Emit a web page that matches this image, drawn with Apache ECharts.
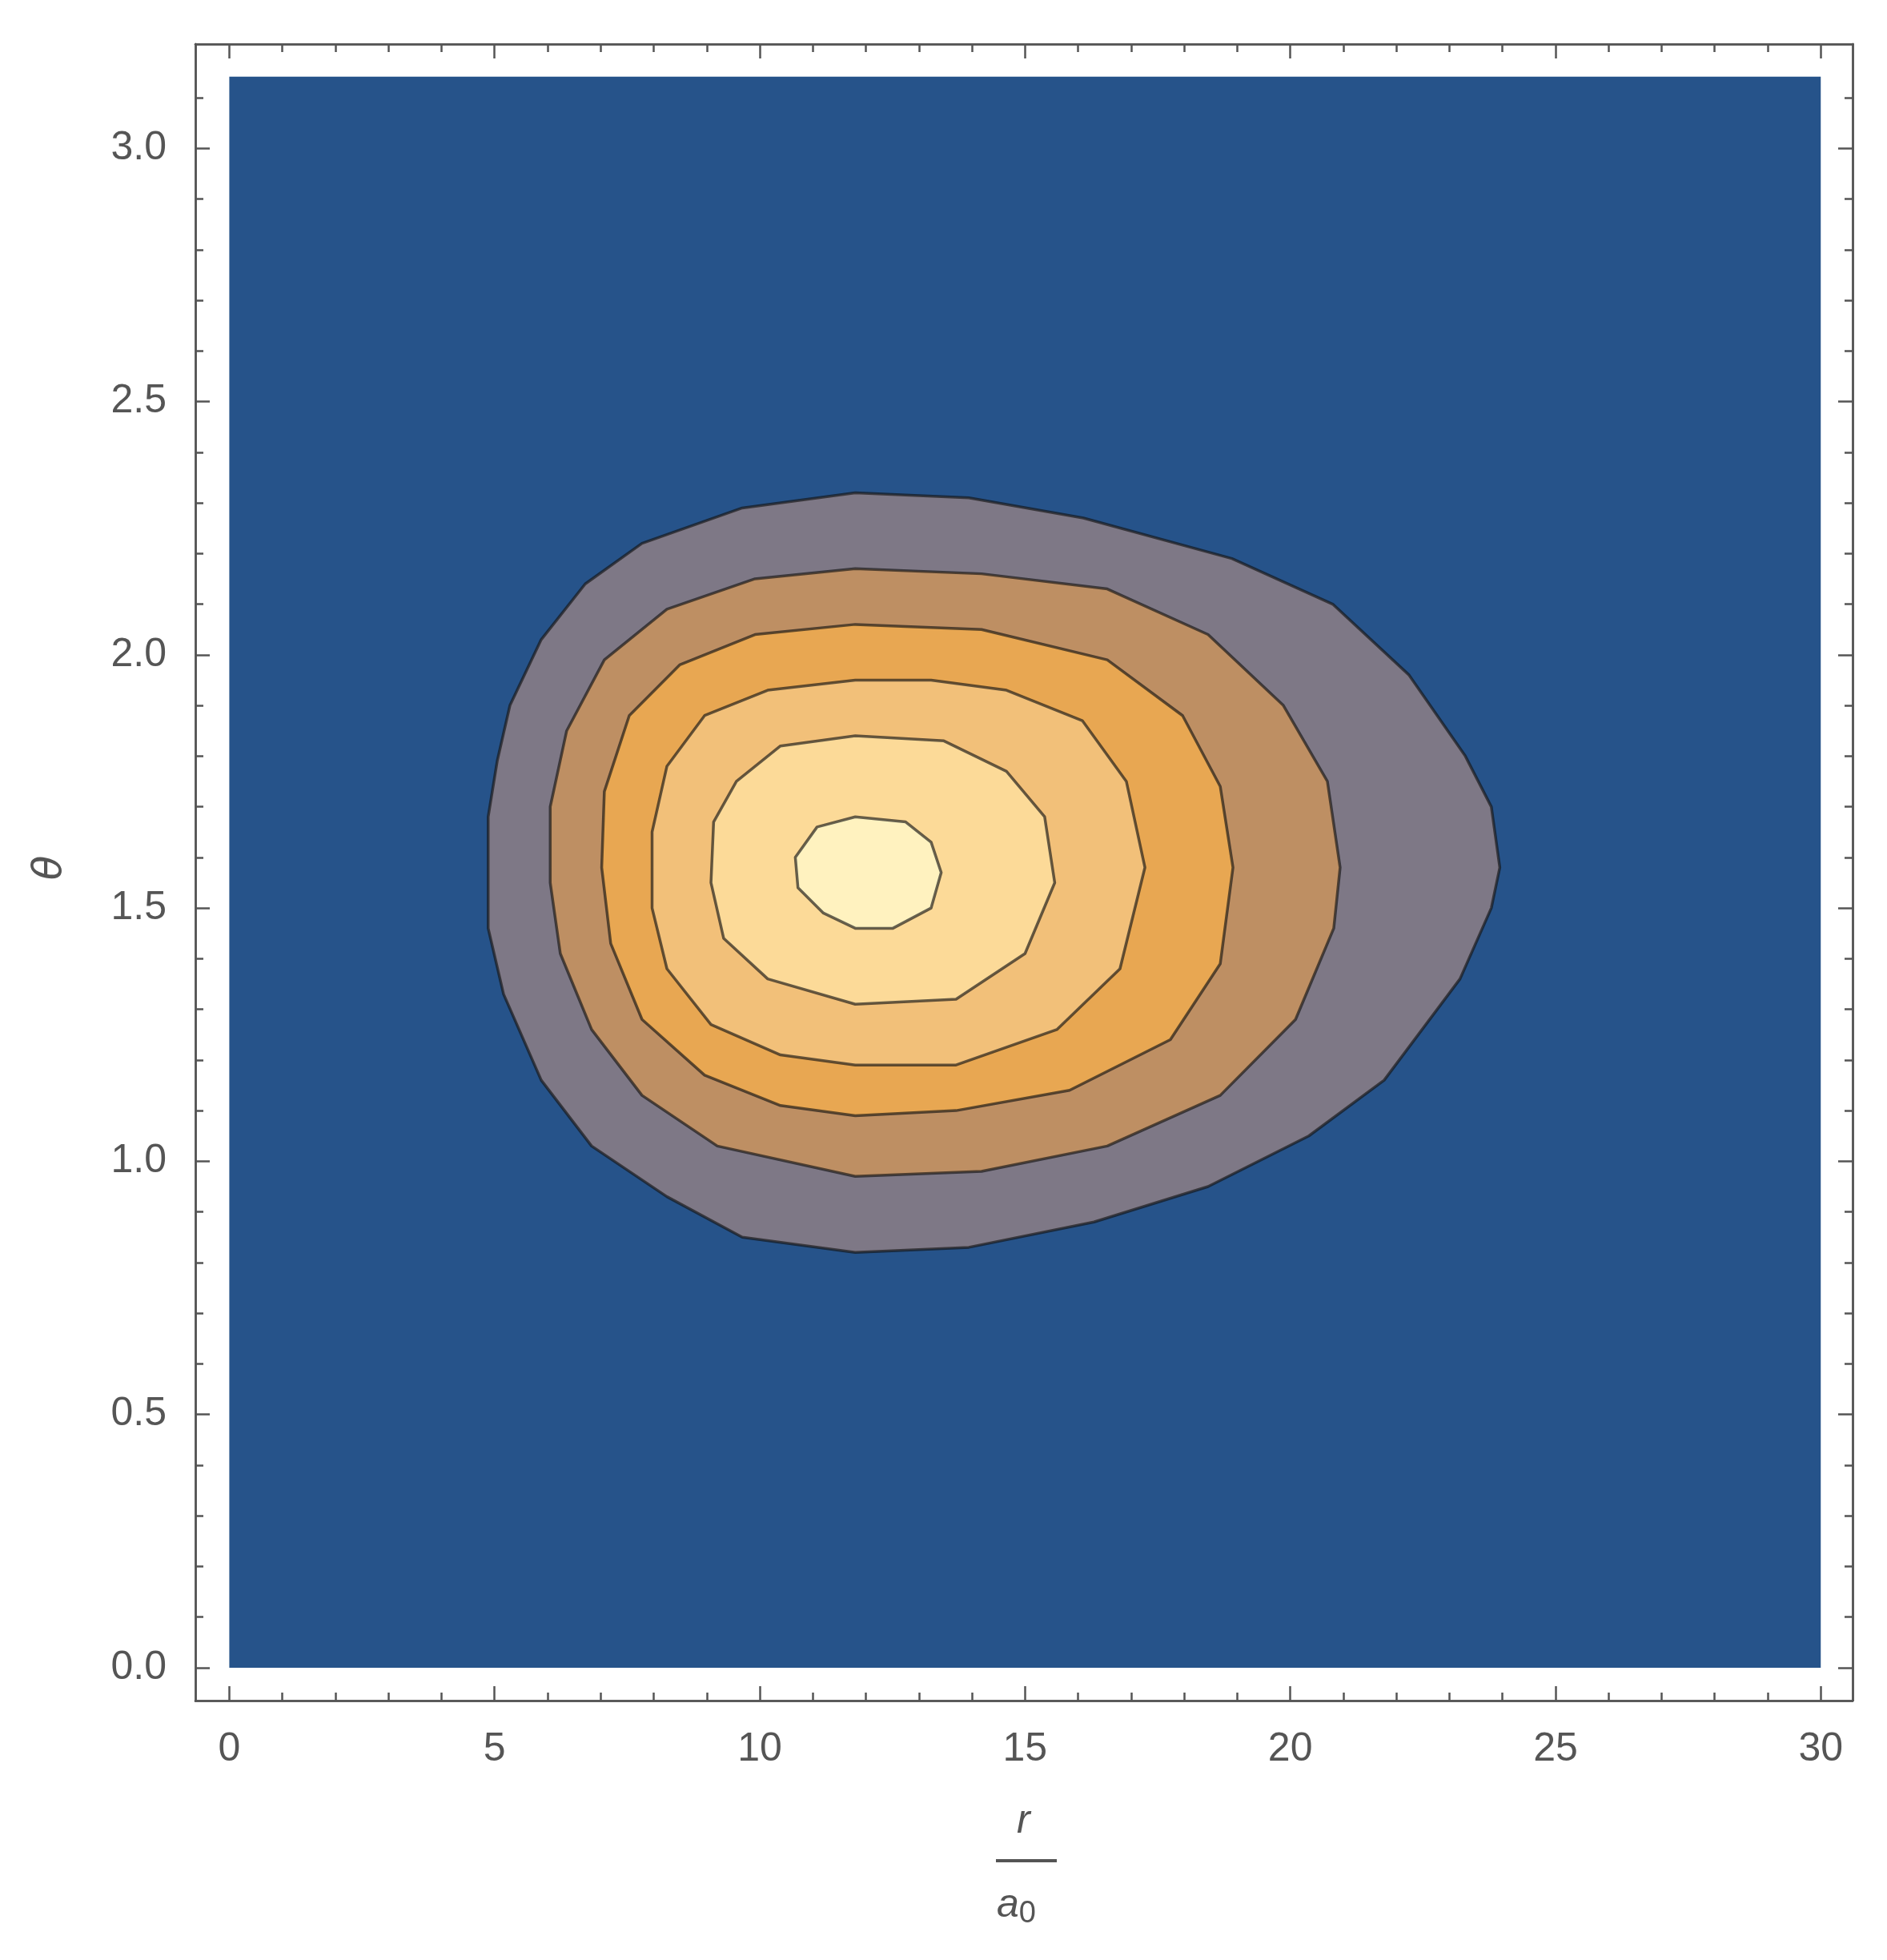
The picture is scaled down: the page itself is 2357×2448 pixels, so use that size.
<!DOCTYPE html>
<html>
<head>
<meta charset="utf-8">
<script src="https://cdn.jsdelivr.net/npm/echarts@6/dist/echarts.min.js"></script>
<style>html,body{margin:0;padding:0;background:#fff}#chart{width:2357px;height:2448px}</style>
</head>
<body>
<div id="chart"></div>
<script>
// contour bands, outermost first, points are [r/a0, theta]
var background = [[0, 0], [30, 0], [30, 3.1416], [0, 3.1416]];
var level1 = [[11.8,2.32],[9.67,2.29],[7.78,2.22],[6.71,2.14],[5.88,2.03],[5.29,1.90],[5.05,1.79],[4.88,1.68],[4.88,1.46],[5.17,1.33],[5.88,1.16],[6.83,1.03],[8.25,0.93],[9.67,0.85],[11.8,0.82],[13.94,0.83],[16.3,0.88],[18.45,0.95],[20.35,1.05],[21.77,1.16],[23.2,1.36],[23.79,1.50],[23.95,1.58],[23.79,1.70],[23.3,1.80],[22.24,1.96],[20.8,2.10],[18.9,2.19],[16.1,2.27],[13.94,2.31]];
var level2 = [[11.8,2.17],[9.91,2.15],[8.25,2.09],[7.07,1.99],[6.36,1.85],[6.05,1.70],[6.05,1.55],[6.24,1.41],[6.83,1.26],[7.78,1.13],[9.2,1.03],[11.8,0.97],[14.18,0.98],[16.55,1.03],[18.68,1.13],[20.1,1.28],[20.82,1.46],[20.94,1.58],[20.7,1.75],[19.87,1.90],[18.45,2.04],[16.55,2.13],[14.18,2.16]];
var level3 = [[11.8,2.06],[9.91,2.04],[8.49,1.98],[7.54,1.88],[7.07,1.73],[7.02,1.58],[7.19,1.43],[7.78,1.28],[8.96,1.17],[10.39,1.11],[11.8,1.09],[13.7,1.10],[15.84,1.14],[17.74,1.24],[18.68,1.39],[18.92,1.58],[18.68,1.74],[17.97,1.88],[16.55,1.99],[14.18,2.05]];
var level4 = [[11.8,1.95],[10.15,1.93],[8.96,1.88],[8.25,1.78],[7.97,1.65],[7.97,1.50],[8.25,1.38],[9.08,1.27],[10.39,1.21],[11.8,1.19],[13.7,1.19],[15.6,1.26],[16.79,1.38],[17.26,1.58],[16.91,1.75],[16.08,1.87],[14.65,1.93],[13.23,1.95]];
var level5 = [[11.8,1.84],[10.39,1.82],[9.56,1.75],[9.13,1.67],[9.08,1.55],[9.32,1.44],[10.15,1.36],[11.8,1.31],[13.7,1.32],[15.0,1.41],[15.56,1.55],[15.37,1.68],[14.65,1.77],[13.47,1.83]];
var level6 = [[11.8,1.68],[12.75,1.67],[13.23,1.63],[13.42,1.57],[13.23,1.50],[12.51,1.46],[11.8,1.46],[11.2,1.49],[10.72,1.54],[10.67,1.60],[11.08,1.66]];
var bands = [background, level1, level2, level3, level4, level5, level6];
var bandColors = ['#26538A', '#7E7886', '#BE8F63', '#E8A752', '#F2C079', '#FCDA98', '#FFF2BF'];

var xMajor = [0, 5, 10, 15, 20, 25, 30];
var xMinor = [];
for (var i = 0; i <= 30; i++) xMinor.push(i);
var yMajor = [0, 0.5, 1.0, 1.5, 2.0, 2.5, 3.0];
var yMinor = [];
for (var j = 0; j <= 31; j++) yMinor.push(Math.round(j * 10) / 100 * 1);
yMinor = yMinor.map(function (v) { return Math.round(v * 1000) / 100 / 10; });

var xMin = -0.64, xMax = 30.6, yMin = -0.065, yMax = 3.206;
var frame = '#555555';
var font = 'Liberation Sans';

function makeAxis(type, pos, ticks, len, labels) {
    var a = {
        type: 'value', position: pos,
        min: type === 'x' ? xMin : yMin, max: type === 'x' ? xMax : yMax,
        axisLine: { show: true, onZero: false, lineStyle: { color: frame, width: 2.5 } },
        axisTick: { show: true, inside: true, length: len, customValues: ticks, lineStyle: { color: frame, width: 2.5 } },
        axisLabel: { show: labels, customValues: ticks, color: '#555', fontSize: 50, fontFamily: font, margin: 36,
            formatter: function (v) { return type === 'x' ? String(v) : v.toFixed(1); } },
        splitLine: { show: false }
    };
    return a;
}

var chart = echarts.init(document.getElementById('chart'));
chart.setOption({
    animation: false,
    backgroundColor: '#fff',
    grid: { left: 244, right: 43, top: 55, bottom: 324 },
    xAxis: [
        makeAxis('x', 'bottom', xMajor, 18, true),
        makeAxis('x', 'bottom', xMinor, 10, false),
        makeAxis('x', 'top', xMajor, 18, false),
        makeAxis('x', 'top', xMinor, 10, false)
    ],
    yAxis: [
        makeAxis('y', 'left', yMajor, 18, true),
        makeAxis('y', 'left', yMinor, 10, false),
        makeAxis('y', 'right', yMajor, 18, false),
        makeAxis('y', 'right', yMinor, 10, false)
    ],
    series: [{
        type: 'custom',
        data: bands.map(function (b, k) { return k; }),
        renderItem: function (params, api) {
            var k = api.value(0);
            var pts = bands[k].map(function (p) { return api.coord(p); });
            return {
                type: 'polygon',
                shape: { points: pts },
                style: {
                    fill: bandColors[k],
                    stroke: k === 0 ? null : 'rgba(20,20,20,0.65)',
                    lineWidth: k === 0 ? 0 : 3.5,
                    lineJoin: 'round'
                }
            };
        }
    }],
    graphic: [
        { type: 'text', left: 1270, top: 2250, style: { text: 'r', font: 'italic 50px "Liberation Sans"', fill: '#555' } },
        { type: 'rect', shape: { x: 1244, y: 2322, width: 76, height: 4 }, style: { fill: '#555' } },
        { type: 'text', left: 1245, top: 2355, style: { text: '{a|a}{s|0}', rich: {
            a: { font: 'italic 50px "Liberation Sans"', fill: '#555' },
            s: { font: '38px "Liberation Sans"', fill: '#555', verticalAlign: 'bottom', padding: [22, 0, 0, 0] } } } },
        { type: 'text', x: 63, y: 1084, rotation: Math.PI / 2, style: { text: 'θ', font: 'italic 50px "DejaVu Sans"', fill: '#555', align: 'center', verticalAlign: 'middle' } }
    ]
});
</script>
</body>
</html>
